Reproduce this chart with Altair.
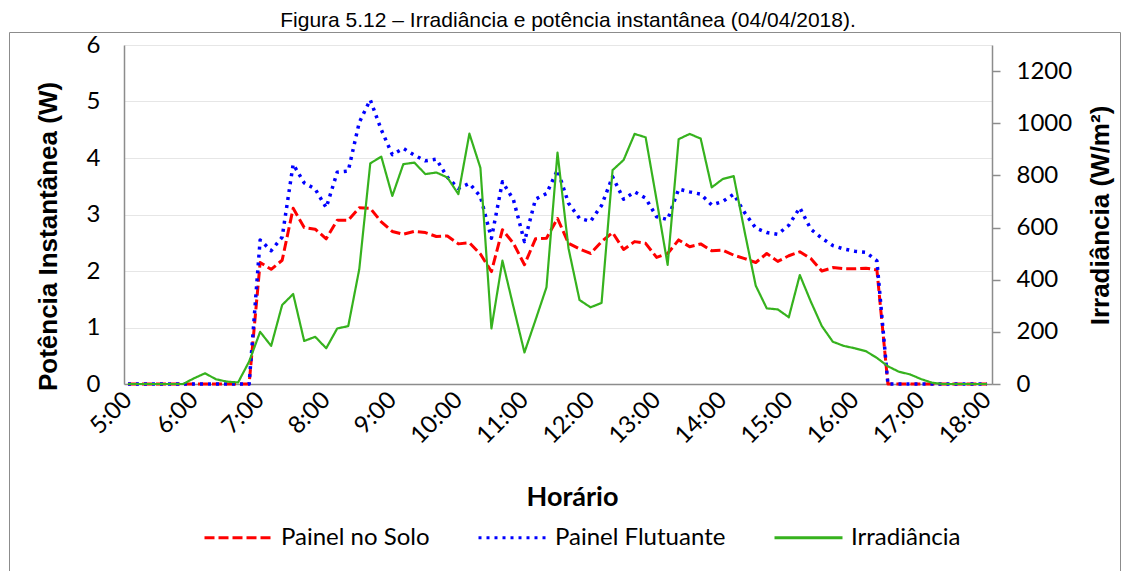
import altair as alt
import pandas as pd

# ---------------- data ----------------
inicio_h = 5          # 5:00
passo_min = 10        # one reading every 10 minutes

painel_solo = [
    0, 0, 0, 0, 0, 0, 0, 0, 0, 0, 0, 0,
    2.15, 2.03, 2.19, 3.11, 2.77, 2.74,
    2.57, 2.90, 2.90, 3.12, 3.11, 2.87,
    2.70, 2.65, 2.70, 2.68, 2.61, 2.62,
    2.48, 2.50, 2.30, 1.99, 2.73, 2.49,
    2.11, 2.57, 2.58, 2.93, 2.49, 2.39,
    2.31, 2.52, 2.68, 2.38, 2.52, 2.49,
    2.24, 2.31, 2.55, 2.43, 2.48, 2.36,
    2.37, 2.28, 2.22, 2.15, 2.31, 2.17,
    2.27, 2.34, 2.22, 2.00, 2.06, 2.04,
    2.04, 2.05, 2.02, 0, 0, 0,
    0, 0, 0, 0, 0, 0, 0,
]

painel_flutuante = [
    0, 0, 0, 0, 0, 0, 0, 0, 0, 0, 0, 0,
    2.55, 2.36, 2.60, 3.89, 3.56, 3.45,
    3.12, 3.75, 3.77, 4.63, 5.03, 4.50,
    4.06, 4.17, 4.05, 3.95, 3.98, 3.66,
    3.46, 3.55, 3.32, 2.58, 3.58, 3.26,
    2.52, 3.27, 3.37, 3.79, 3.20, 2.93,
    2.88, 3.16, 3.67, 3.27, 3.40, 3.29,
    2.96, 2.91, 3.45, 3.40, 3.36, 3.17,
    3.23, 3.36, 3.03, 2.76, 2.68, 2.65,
    2.81, 3.12, 2.74, 2.58, 2.45, 2.39,
    2.35, 2.33, 2.18, 0, 0, 0,
    0, 0, 0, 0, 0, 0, 0,
]

irradiancia = [
    0, 0, 0, 0, 0, 0, 22, 41, 18, 9, 6, 86,
    200, 146, 303, 345, 165, 181,
    137, 213, 222, 440, 846, 872,
    721, 843, 849, 805, 811, 792,
    728, 960, 829, 213, 473, 296,
    121, 245, 371, 887, 520, 322,
    294, 311, 820, 859, 959, 946,
    705, 457, 939, 959, 941, 754,
    786, 797, 582, 377, 290, 286,
    256, 418, 316, 222, 162, 146,
    137, 126, 100, 68, 47, 37,
    19, 5, 0, 0, 0, 0, 0,
]

horas_eixo = list(range(5, 19))
valores_pot = [0, 1, 2, 3, 4, 5, 6]
valores_irr = [0, 200, 400, 600, 800, 1000, 1200]

series = ["Painel no Solo", "Painel Flutuante", "Irradiância"]
cores = ["#ff0000", "#0000ff", "#36b21e"]
tracos = [[10, 4], [3, 5], [1, 0]]

titulo = "Figura 5.12 – Irradiância e potência instantânea (04/04/2018)."

# ---------------- tables ----------------
n = len(painel_solo)
tempo = [inicio_h + i * passo_min / 60 for i in range(n)]

df_pot = pd.DataFrame(
    [{"t": tempo[i], "serie": series[0], "v": painel_solo[i]} for i in range(n)]
    + [{"t": tempo[i], "serie": series[1], "v": painel_flutuante[i]} for i in range(n)]
)
df_irr = pd.DataFrame({"t": tempo, "serie": series[2], "irr": irradiancia})

AXIS_GRAY = "#8c8c8c"
TICK_FONT = "Lato"

x_enc = alt.X(
    "t:Q",
    scale=alt.Scale(domain=[4.94, 18.075], nice=False, zero=False),
    axis=alt.Axis(
        values=horas_eixo,
        labelExpr="datum.value + ':00'",
        labelAngle=-45,
        labelAlign="right",
        labelBaseline="middle",
        labelPadding=12,
        labelFont=TICK_FONT,
        labelFontSize=24,
        labelColor="#000000",
        labelOverlap=False,
        labelFlush=False,
        ticks=False,
        grid=False,
        domainColor=AXIS_GRAY,
        domainWidth=1.5,
        title="Horário",
        titleFont=TICK_FONT,
        titleFontSize=27,
        titleFontWeight="bold",
        titleColor="#000000",
        titleX=448,
        titleY=113,
        titleBaseline="middle",
        titleAlign="center",
    ),
)

color_enc = alt.Color(
    "serie:N",
    scale=alt.Scale(domain=series, range=cores),
    legend=alt.Legend(
        title=None,
        orient="none",
        direction="horizontal",
        legendX=79,
        legendY=457,
        symbolType="stroke",
        symbolSize=4624,
        symbolStrokeWidth=3,
        labelFont=TICK_FONT,
        labelFontSize=24,
        labelColor="#000000",
        labelOffset=7,
        labelLimit=0,
        columnPadding=42,
        padding=0,
    ),
)
dash_enc = alt.StrokeDash(
    "serie:N", scale=alt.Scale(domain=series, range=tracos), legend=None
)

pot = (
    alt.Chart(df_pot)
    .mark_line(strokeJoin="round")
    .encode(
        x=x_enc,
        y=alt.Y(
            "v:Q",
            scale=alt.Scale(domain=[0, 6], nice=False),
            axis=alt.Axis(
                values=valores_pot,
                grid=True,
                gridColor="#e6e6e6",
                gridWidth=1.2,
                ticks=False,
                domainColor=AXIS_GRAY,
                domainWidth=1.5,
                labelFont=TICK_FONT,
                labelFontSize=24,
                labelColor="#000000",
                labelPadding=24,
                title="Potência Instantânea (W)",
                titleFont="Liberation Sans",
                titleFontSize=26,
                titleFontWeight="bold",
                titleColor="#000000",
                titleAngle=270,
                titleX=-76,
                titleY=191,
                titleAlign="center",
                titleBaseline="middle",
            ),
        ),
        color=color_enc,
        strokeDash=dash_enc,
        strokeWidth=alt.StrokeWidth(
            "serie:N",
            scale=alt.Scale(domain=series[:2], range=[3, 3.5]),
            legend=None,
        ),
        detail="serie:N",
        order="t:Q",
    )
)

irr = (
    alt.Chart(df_irr)
    .mark_line(strokeWidth=2.2, strokeJoin="round")
    .encode(
        x=x_enc,
        y=alt.Y(
            "irr:Q",
            scale=alt.Scale(domain=[0, 1300], nice=False),
            axis=alt.Axis(
                orient="right",
                values=valores_irr,
                format="d",
                grid=False,
                tickSize=8,
                tickColor=AXIS_GRAY,
                tickWidth=1.5,
                domainColor=AXIS_GRAY,
                domainWidth=1.5,
                labelFont=TICK_FONT,
                labelFontSize=24,
                labelColor="#000000",
                labelPadding=16,
                title="Irradiância (W/m²)",
                titleFont="Liberation Sans",
                titleFontSize=26,
                titleFontWeight="bold",
                titleColor="#000000",
                titleAngle=270,
                titleX=108,
                titleY=170,
                titleAlign="center",
                titleBaseline="middle",
            ),
        ),
        color=color_enc,
        strokeDash=dash_enc,
        order="t:Q",
    )
)

moldura = (
    alt.Chart(alt.Data(values=[{}]))
    .mark_rect(fillOpacity=0, stroke="#8c8c8c", strokeWidth=1)
    .encode(
        x=alt.value(-114.5),
        x2=alt.value(996.5),
        y=alt.value(-12.5),
        y2=alt.value(600),
    )
)

texto_titulo = (
    alt.Chart(alt.Data(values=[{}]))
    .mark_text(
        font="Liberation Sans",
        fontSize=21,
        align="center",
        baseline="alphabetic",
        color="#000000",
    )
    .encode(x=alt.value(444), y=alt.value(-18), text=alt.value(titulo))
)

chart = (
    alt.layer(moldura, pot, irr, texto_titulo)
    .resolve_scale(y="independent")
    .properties(
        width=868,
        height=339,
        autosize=alt.AutoSizeParams(type="none"),
        padding={"left": 116, "top": 37, "right": 131, "bottom": 187},
        background="#ffffff",
    )
    .configure_view(stroke=None)
)

chart.save("out.html", embed_options={"renderer": "svg", "actions": False})
